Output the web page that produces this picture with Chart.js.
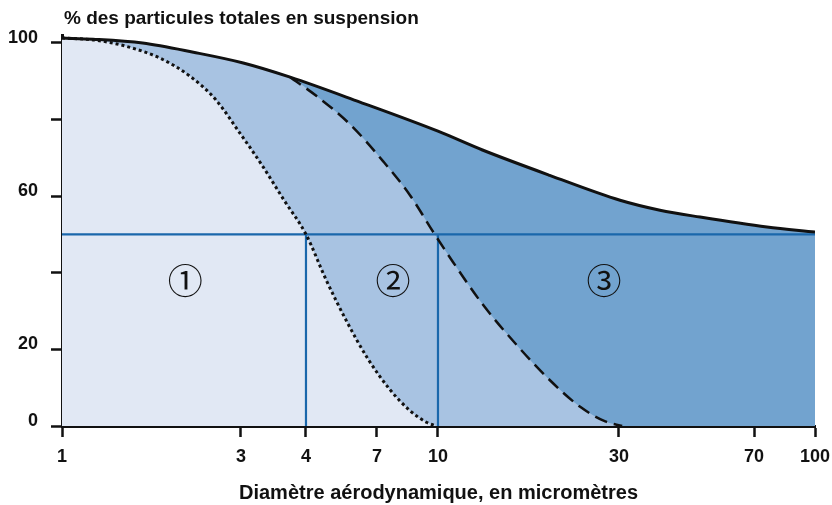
<!DOCTYPE html>
<html>
<head>
<meta charset="utf-8">
<script src="https://cdn.jsdelivr.net/npm/chart.js@4.4.1/dist/chart.umd.min.js"></script>
<style>
  html, body { margin: 0; padding: 0; background: #fff; }
</style>
</head>
<body>
<canvas id="chart" width="832" height="505"></canvas>
<script>
// axe x : diamètre en micromètres (échelle log, le 4 est décalé sur la figure)
const xTickVals = [1, 3, 4, 7, 10, 30, 70, 100];
const xTickPos = [0, 0.2377, 0.324, 0.4183, 0.4993, 0.7397, 0.919, 1];
const yTickVals = [0, 20, 40, 60, 80, 100];
const yTickText = ['0', '20', '', '60', '', '100'];

// courbe totale (trait plein)
const topX = [1, 1.21, 1.64, 2.24, 3.03, 3.73, 6.12, 10, 13.1, 19.7, 30.2, 38.8, 49.9, 75.5, 100];
const topY = [101.2, 100.9, 99.9, 97.5, 94.7, 91.0, 84.5, 76.9, 72.0, 65.4, 58.9, 56.3, 54.5, 51.9, 50.6];
// courbe thoracique (tirets)
const dashX = [3.73, 4.36, 5.66, 7.25, 8.49, 9.77, 10.95, 13.1, 16.2, 19.7, 23.7, 27.6, 30.6];
const dashY = [91.0, 86.0, 78.7, 69.1, 60.2, 50.3, 42.8, 31.8, 20.9, 12.0, 5.0, 1.2, 0];
// courbe alvéolaire (pointillés)
const dotX = [1, 1.22, 1.49, 1.83, 2.19, 2.56, 2.98, 3.29, 3.63, 4, 4.69, 5.53, 6.52, 7.55, 8.49, 9.38, 9.9];
const dotY = [101.2, 100.7, 99.0, 95.9, 91.3, 85.3, 76.4, 68.1, 58.9, 50, 38.1, 27.1, 17.5, 9.5, 4.0, 0.9, 0];

// repères à 50 %
const refLevel = 50;
const refX = [4, 10];

const zoneLabels = ['\u2460', '\u2461', '\u2462'];
const zoneX = [2.13, 7.69, 27.4];
const zoneY = 37.8;

const yTitle = '% des particules totales en suspension';
const xTitle = 'Diamètre aérodynamique, en micromètres';

const pts = (xs, ys) => xs.map((x, i) => ({ x: x, y: ys[i] }));

// zone 2 : suit la courbe totale jusqu'au départ des tirets
const nPre = topX.filter(v => v < dashX[0]).length;
const midPts = pts(topX.slice(0, nPre), topY.slice(0, nPre)).concat(pts(dashX, dashY));

function warp(v) {
  const lv = Math.log10(v);
  for (let i = 1; i < xTickVals.length; i++) {
    const a = Math.log10(xTickVals[i - 1]), b = Math.log10(xTickVals[i]);
    if (lv <= b || i === xTickVals.length - 1) {
      return xTickPos[i - 1] + (lv - a) / (b - a) * (xTickPos[i] - xTickPos[i - 1]);
    }
  }
}
function unwarp(d) {
  for (let i = 1; i < xTickPos.length; i++) {
    if (d <= xTickPos[i] || i === xTickPos.length - 1) {
      const a = Math.log10(xTickVals[i - 1]), b = Math.log10(xTickVals[i]);
      return Math.pow(10, a + (d - xTickPos[i - 1]) / (xTickPos[i] - xTickPos[i - 1]) * (b - a));
    }
  }
}

class WarpLogScale extends Chart.LogarithmicScale {
  static id = 'warplog';
  getPixelForValue(value) {
    if (value === null || value === undefined || isNaN(value) || value <= 0) return NaN;
    return this.getPixelForDecimal(warp(value));
  }
  getValueForPixel(pixel) {
    return unwarp(this.getDecimalForPixel(pixel));
  }
}
Chart.register(WarpLogScale);

const annotate = {
  id: 'annotate',
  afterDatasetsDraw(chart) {
    const { ctx, chartArea, scales } = chart;
    ctx.save();
    ctx.fillStyle = '#111';
    ctx.font = '35px "Noto Sans CJK JP"';
    ctx.textAlign = 'center';
    ctx.textBaseline = 'middle';
    zoneLabels.forEach((t, i) => {
      ctx.fillText(t, scales.x.getPixelForValue(zoneX[i]), scales.y.getPixelForValue(zoneY));
    });
    ctx.font = 'bold 19px "Liberation Sans", Arial, sans-serif';
    ctx.textAlign = 'left';
    ctx.fillText(yTitle, chartArea.left + 2, chartArea.top - 16);
    ctx.restore();
  }
};

const tickFont = { family: '"Liberation Sans Narrow", "Liberation Sans", sans-serif', size: 18, weight: 'bold' };
const blue = '#1a67ab';
const ink = '#111';

const curve = (data, extra) => Object.assign({
  data: data,
  borderColor: ink,
  fill: false,
  cubicInterpolationMode: 'monotone',
  pointRadius: 0
}, extra);

new Chart(document.getElementById('chart'), {
  type: 'line',
  plugins: [annotate],
  data: {
    datasets: [
      curve(pts(dotX, dotY), { borderWidth: 3, borderDash: [3, 3], backgroundColor: '#e1e8f4', fill: 'origin' }),
      curve(pts(dashX, dashY), { borderWidth: 2.5, borderDash: [13, 7] }),
      curve(midPts, { borderWidth: 0, borderColor: 'rgba(0,0,0,0)', backgroundColor: '#a8c3e2', fill: 'origin' }),
      curve(pts(topX, topY), { borderWidth: 3, backgroundColor: '#72a3cf', fill: 'origin' }),
      curve([{ x: xTickVals[0], y: refLevel }, { x: xTickVals[xTickVals.length - 1], y: refLevel }], { borderColor: blue, borderWidth: 2.2 }),
      curve([{ x: refX[0], y: 0 }, { x: refX[0], y: refLevel }], { borderColor: blue, borderWidth: 2.2 }),
      curve([{ x: refX[1], y: 0 }, { x: refX[1], y: refLevel }], { borderColor: blue, borderWidth: 2.2 })
    ]
  },
  options: {
    responsive: false,
    animation: false,
    events: [],
    layout: { padding: { top: 35, right: 17, left: 0, bottom: 0 } },
    plugins: {
      legend: { display: false },
      tooltip: { enabled: false },
      filler: { drawTime: 'beforeDatasetsDraw' }
    },
    scales: {
      x: {
        type: 'warplog',
        min: 1,
        max: 100,
        z: 1,
        afterBuildTicks: s => { s.ticks = xTickVals.map(v => ({ value: v })); },
        afterFit: s => { s.height = 79; s.paddingLeft = 0; s.paddingRight = 0; },
        ticks: {
          autoSkip: false,
          maxRotation: 0,
          padding: 9,
          color: ink,
          font: tickFont,
          callback: v => String(v)
        },
        grid: {
          drawOnChartArea: false,
          drawTicks: true,
          tickLength: 11,
          tickColor: ink,
          tickWidth: 2.5
        },
        border: { display: true, color: ink, width: 3 },
        title: {
          display: true,
          text: xTitle,
          color: ink,
          font: { family: '"Liberation Sans", Arial, sans-serif', size: 20, weight: 'bold' },
          padding: { top: 4, bottom: 0 }
        }
      },
      y: {
        min: 0,
        max: 102,
        z: 1,
        afterBuildTicks: s => { s.ticks = yTickVals.map(v => ({ value: v })); },
        afterFit: s => { s.width = 62; },
        ticks: {
          padding: 13,
          labelOffset: -5,
          color: ink,
          font: tickFont,
          callback: v => yTickText[yTickVals.indexOf(v)]
        },
        grid: {
          drawOnChartArea: false,
          drawTicks: true,
          tickLength: 11,
          tickColor: ink,
          tickWidth: 2.5
        },
        border: { display: true, color: ink, width: 3 }
      }
    }
  }
});
</script>
</body>
</html>
